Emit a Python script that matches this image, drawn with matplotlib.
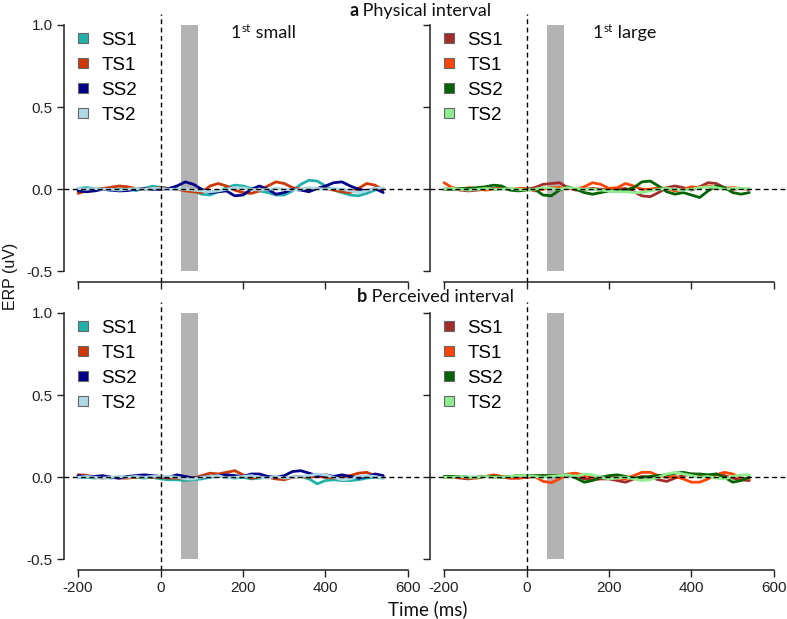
import matplotlib
matplotlib.use('Agg')
import matplotlib.pyplot as plt
from matplotlib.lines import Line2D

plt.rcParams['axes.unicode_minus'] = False

# ---------------- data ----------------
time_ms = list(range(-200, 541, 20))
series_names = ['SS1', 'TS1', 'SS2', 'TS2']
colors_small = ['#20B2AA', '#CD3700', '#00008B', '#ADD8E6']
colors_large = ['#A52A2A', '#FF4500', '#006400', '#90EE90']
x_ticks = [-200, 0, 200, 400, 600]
x_ticklabels = ['-200', '0', '200', '400', '600']
y_ticks = [-0.5, 0.0, 0.5, 1.0]
y_ticklabels = ['-0.5', '0.0', '0.5', '1.0']
window_start, window_end = 50, 90

# a: physical interval, 1st small
phys_small_SS1 = [0.005, 0.01, 0.005, 0, -0.005, 0, 0.005, -0.008, 0.005, 0.018,
                  0.012, 0.005, 0.002, 0, -0.01, -0.03, -0.035, -0.015, 0.01, 0.025,
                  0.02, 0.005, -0.01, -0.02, -0.035, -0.035, -0.01, 0.03, 0.055, 0.05,
                  0.02, -0.005, -0.02, -0.035, -0.04, -0.025, -0.005, 0.005]
phys_small_TS1 = [-0.025, -0.01, 0, 0.005, 0.012, 0.02, 0.015, 0.005, 0, 0.005,
                  0.01, 0.005, 0, -0.01, -0.015, -0.02, 0.02, 0.035, 0.02, -0.005,
                  -0.02, -0.025, -0.01, 0.02, 0.045, 0.035, 0.01, 0, 0, 0.005,
                  0.005, -0.005, -0.015, -0.02, 0.005, 0.035, 0.025, -0.005]
phys_small_SS2 = [-0.01, -0.015, -0.01, 0, -0.005, -0.01, -0.008, 0, 0.005, 0,
                  0, 0.005, 0.02, 0.045, 0.03, 0, -0.02, -0.015, -0.01, -0.04,
                  -0.035, 0, 0.02, 0, -0.03, -0.02, 0, -0.005, -0.015, 0.005,
                  0.02, 0.04, 0.045, 0.02, 0, -0.01, 0.005, -0.02]
phys_small_TS2 = [0.005, 0, 0.005, 0, 0, -0.005, 0, 0.005, 0, 0.005,
                  0.005, 0, 0, 0, -0.005, -0.01, -0.015, -0.01, 0, 0.01,
                  0.008, 0, -0.005, 0, 0.005, 0, -0.005, 0, 0.01, 0.005,
                  0, 0.005, 0, -0.01, -0.02, -0.01, 0.005, 0.01]

# a: physical interval, 1st large
phys_large_SS1 = [0, 0.005, -0.005, -0.01, -0.005, 0, 0.005, 0.005, 0, -0.005,
                  0, 0.01, 0.03, 0.035, 0.04, 0.01, -0.005, 0, 0.005, 0,
                  -0.005, 0, 0.005, -0.015, -0.04, -0.045, -0.02, 0.01, 0.02, 0.01,
                  -0.005, 0.015, 0.04, 0.035, 0.01, 0, 0.005, 0]
phys_large_TS1 = [0.04, 0.01, 0, 0.01, 0.005, -0.005, 0, 0.005, 0, 0.005,
                  0.005, -0.01, 0, 0.01, 0.01, 0.005, 0, 0.015, 0.04, 0.03,
                  0.005, 0.01, 0.035, 0.02, 0, 0, 0.01, 0.005, -0.01, 0,
                  0.015, 0.01, 0.02, 0.01, 0.005, 0.01, 0.005, 0]
phys_large_SS2 = [0, 0, 0.005, 0.005, 0.01, 0.015, 0.025, 0.02, -0.005, -0.01,
                  -0.005, 0, -0.035, -0.04, -0.005, 0.015, 0, -0.02, -0.03, -0.02,
                  -0.01, -0.01, -0.005, 0.01, 0.045, 0.05, 0.02, -0.015, -0.03, -0.02,
                  -0.035, -0.05, -0.01, 0.02, 0.01, -0.02, -0.03, -0.02]
phys_large_TS2 = [0, 0.005, 0, -0.005, 0, 0.005, 0, 0, 0.005, 0,
                  -0.005, 0, 0.01, 0.005, 0, 0.01, 0.005, 0, 0, -0.005,
                  -0.01, -0.015, -0.015, -0.02, -0.02, -0.01, 0, 0.005, 0, -0.005,
                  0, 0.01, 0.015, 0.01, 0, 0.005, 0.005, 0.005]

# b: perceived interval, 1st small
perc_small_SS1 = [0, 0, -0.005, 0, -0.005, 0, 0.005, 0, -0.005, 0,
                  -0.01, -0.015, -0.015, -0.02, -0.015, -0.01, 0, 0.005, 0, -0.005,
                  0, -0.01, -0.005, 0, 0, -0.005, 0, 0.005, -0.01, -0.04,
                  -0.02, -0.015, -0.02, -0.02, -0.015, -0.005, 0, -0.005]
perc_small_TS1 = [0.015, 0.012, 0, -0.005, 0, -0.005, -0.005, 0, 0.005, 0,
                  0, -0.005, -0.005, -0.01, -0.005, 0.01, 0.025, 0.02, 0.03, 0.04,
                  0.015, -0.005, 0, 0, -0.01, -0.015, 0, 0.005, 0, 0.005,
                  0, -0.005, 0, 0.01, 0.025, 0.03, 0.01, 0]
perc_small_SS2 = [0.01, 0.005, 0.005, 0.01, 0, -0.005, 0.005, 0.01, 0.015, 0.01,
                  0.005, 0, 0.015, 0.005, -0.005, 0, 0.005, 0.01, 0.015, 0.01,
                  0.005, 0.02, 0.02, 0.005, 0, 0.01, 0.035, 0.04, 0.025, 0.01,
                  0.015, 0.005, 0.015, 0.005, -0.005, 0.005, 0.02, 0.01]
perc_small_TS2 = [0, 0.005, 0, -0.005, 0, 0.005, 0, 0.005, 0, 0.005,
                  0.005, 0.005, 0, -0.01, -0.01, 0, 0.005, 0.01, -0.005, 0,
                  0.005, 0.01, 0, -0.005, 0.005, -0.005, 0, 0.005, 0.01, 0.02,
                  0.015, 0, -0.015, -0.01, 0.005, 0.01, 0.005, -0.005]

# b: perceived interval, 1st large
perc_large_SS1 = [0, 0, -0.005, -0.01, 0, 0.005, 0, 0, -0.005, -0.005,
                  0, 0.005, 0.01, 0.005, 0.01, 0.015, 0.005, -0.01, -0.015, -0.01,
                  -0.01, -0.02, -0.03, -0.01, 0.005, 0, -0.015, -0.025, -0.005, 0.01,
                  0.02, 0.015, 0.005, 0.02, 0.01, -0.005, -0.015, -0.02]
perc_large_TS1 = [0, 0.005, 0, -0.005, -0.005, 0.005, 0.015, 0.005, -0.005, -0.005,
                  0, 0.005, -0.025, -0.033, -0.01, 0.02, 0.025, 0.01, -0.005, 0,
                  0, -0.005, -0.01, 0.01, 0.03, 0.03, 0.01, 0, 0.005, -0.01,
                  -0.03, -0.03, -0.01, 0.015, 0.03, 0.02, -0.005, -0.01]
perc_large_SS2 = [0.005, 0.005, 0.005, 0, 0, 0.005, 0.005, 0, 0.005, 0.01,
                  0.01, 0.01, 0.01, 0.01, 0.01, 0.015, -0.005, -0.03, -0.02, 0,
                  0.01, 0.015, 0.005, -0.005, 0, 0.005, 0.01, 0.015, 0.025, 0.03,
                  0.02, 0.02, 0.015, 0.02, 0, -0.03, -0.02, 0]
perc_large_TS2 = [0, 0, 0.005, 0, 0, 0.005, 0, 0, 0.005, 0.01,
                  0.01, 0.005, 0, 0.005, 0.01, 0.015, 0.005, 0.02, 0.015, 0,
                  -0.01, -0.005, 0, -0.01, -0.02, -0.015, 0, 0.02, 0.03, 0.02,
                  0.01, 0, 0.005, -0.005, -0.01, 0.005, 0.015, 0.015]

panels = [
    dict(pos=(64, 14.3), data=[phys_small_SS1, phys_small_TS1, phys_small_SS2, phys_small_TS2],
         colors=colors_small, ylabels=True, xlabels=False),
    dict(pos=(430, 14.3), data=[phys_large_SS1, phys_large_TS1, phys_large_SS2, phys_large_TS2],
         colors=colors_large, ylabels=False, xlabels=False),
    dict(pos=(64, 302.3), data=[perc_small_SS1, perc_small_TS1, perc_small_SS2, perc_small_TS2],
         colors=colors_small, ylabels=True, xlabels=True),
    dict(pos=(430, 302.3), data=[perc_large_SS1, perc_large_TS1, perc_large_SS2, perc_large_TS2],
         colors=colors_large, ylabels=False, xlabels=True),
]

# ---------------- figure ----------------
W, H = 787, 619
fig = plt.figure(figsize=(W / 100, H / 100), dpi=100)
AX_W, AX_H = 358.0, 267.8
TICK_FONT = 'Liberation Sans'
LABEL_FONT = 'Lato'

for p in panels:
    left, top = p['pos']
    ax = fig.add_axes([left / W, 1 - (top + AX_H) / H, AX_W / W, AX_H / H])
    ax.set_xlim(-234, 634)
    ax.set_ylim(-0.565, 1.065)
    ax.patch.set_alpha(0)
    ax.bar((window_start + window_end) / 2, y_ticks[-1] - y_ticks[0], bottom=y_ticks[0],
           width=window_end - window_start, color='#B3B3B3', zorder=1)
    for vals, c in zip(p['data'], p['colors']):
        ax.plot(time_ms, vals, color=c, lw=2.0, solid_joinstyle='round',
                solid_capstyle='round', zorder=2)
    ax.axhline(0, color='black', lw=1.0, dashes=(3.5, 2.5), zorder=3, clip_on=False)
    ax.axvline(0, color='black', lw=1.0, dashes=(3.5, 2.5), zorder=3)
    for s in ['top', 'right']:
        ax.spines[s].set_visible(False)
    ax.spines['left'].set_bounds(y_ticks[0], y_ticks[-1])
    ax.spines['bottom'].set_bounds(x_ticks[0], x_ticks[-1])
    for s in ['left', 'bottom']:
        ax.spines[s].set_linewidth(1.1)
        ax.spines[s].set_color('#222222')
    ax.set_xticks(x_ticks)
    ax.set_xticklabels(x_ticklabels)
    ax.set_yticks(y_ticks)
    ax.set_yticklabels(y_ticklabels)
    ax.tick_params(direction='out', length=5, width=1.0, color='#222222',
                   labelsize=11, pad=3, labelcolor='#222222')
    for lab in ax.get_xticklabels() + ax.get_yticklabels():
        lab.set_fontfamily(TICK_FONT)
    ax.tick_params(axis='x', labelbottom=p['xlabels'])
    ax.tick_params(axis='y', labelleft=p['ylabels'])

    handles = [Line2D([], [], ls='none', marker='s', markersize=6.5,
                      markerfacecolor=c, markeredgecolor='#666666', markeredgewidth=0.8)
               for c in p['colors']]
    lx = left + 10
    fig.legend(handles, series_names, loc='upper left',
               bbox_to_anchor=(lx / W, 1 - (top + 17.5) / H),
               frameon=False, borderpad=0, borderaxespad=0,
               handlelength=1.0, handletextpad=0.45, labelspacing=0.42,
               prop={'family': TICK_FONT, 'size': 13.5})

renderer = fig.canvas.get_renderer()


def rich(x, y, parts):
    cur = x
    for s, props in parts:
        t = fig.text(cur / W, 1 - y / H, s, ha='left', va='baseline', **props)
        cur += t.get_window_extent(renderer).width
    return cur


def centered_rich(cx, y, parts):
    tmp = []
    total = 0
    for s, props in parts:
        t = fig.text(0, 0, s, **props)
        total += t.get_window_extent(renderer).width
        tmp.append(t)
    for t in tmp:
        t.remove()
    rich(cx - total / 2, y, parts)


lab = dict(family=LABEL_FONT, size=13, color='#111111')
labb = dict(family=LABEL_FONT, size=13, color='#111111', weight='bold')
centered_rich(420.5, 16, [('a', labb), (' Physical interval', lab)])
centered_rich(435, 302, [('b', labb), (' Perceived interval', lab)])

big = dict(family=LABEL_FONT, size=13, color='#111111')
sup = dict(family=LABEL_FONT, size=8.5, color='#111111')
for x0, word in [(231, ' small'), (593, ' large')]:
    cx = rich(x0, 38, [('1', big)])
    t = fig.text(cx / W, 1 - 32 / H, 'st', ha='left', va='baseline', **sup)
    cx += t.get_window_extent(renderer).width
    rich(cx, 38, [(word, big)])

fig.text(10 / W, 1 - 276 / H, 'ERP (uV)', rotation=90, ha='center', va='center',
         family=TICK_FONT, size=11.5, color='#111111')
fig.text(428 / W, 1 - 609 / H, 'Time (ms)', ha='center', va='center',
         family=LABEL_FONT, size=13.5, color='#111111')

fig.savefig('out.png', dpi=100)
